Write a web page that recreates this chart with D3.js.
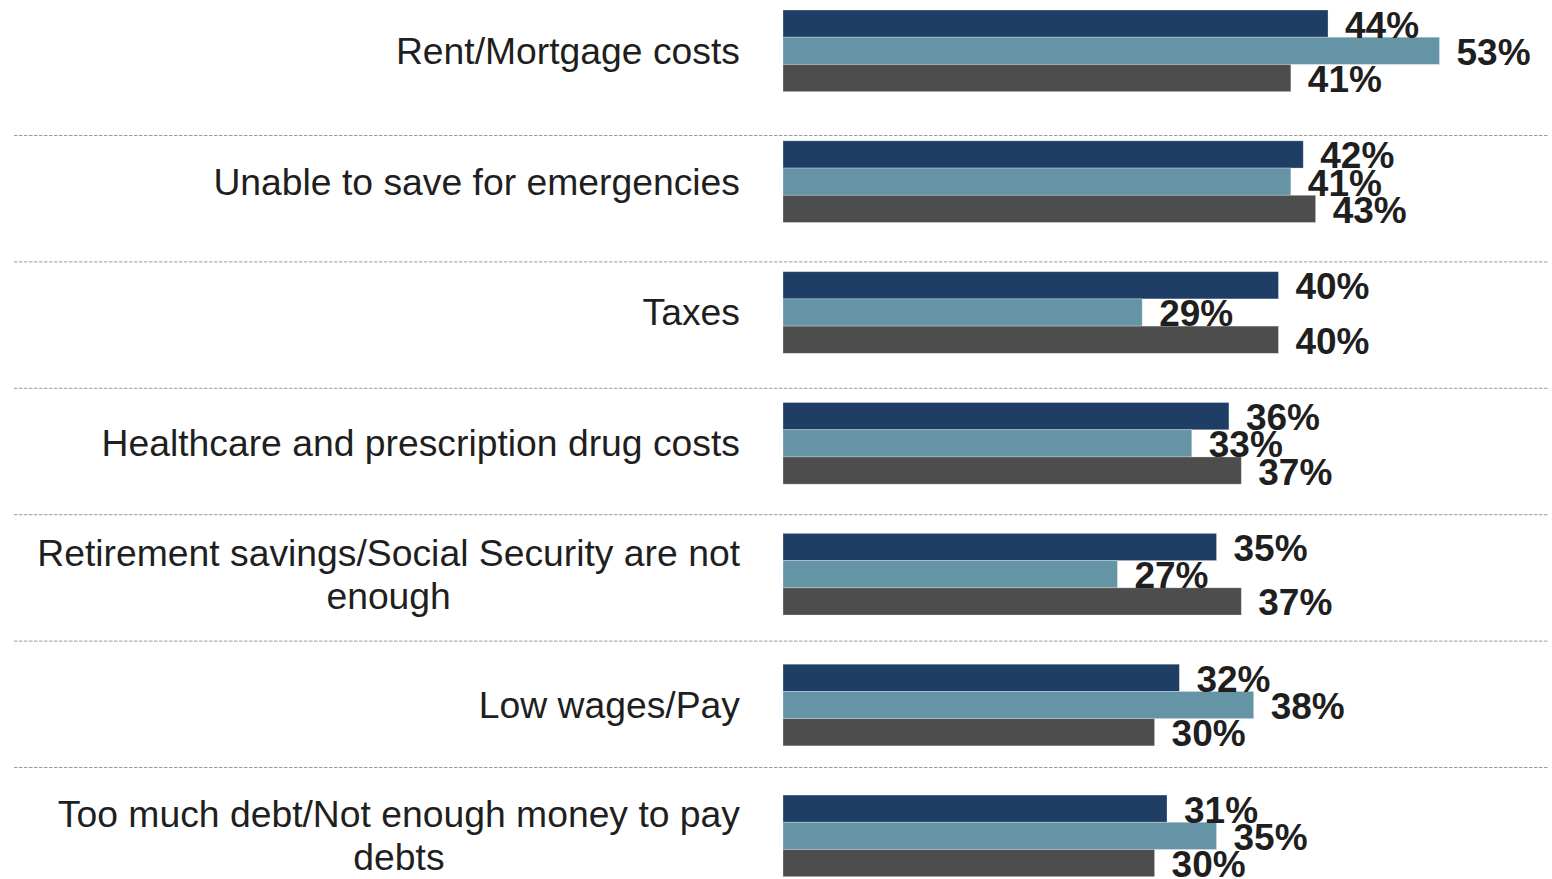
<!DOCTYPE html>
<html>
<head>
<meta charset="utf-8">
<script src="https://cdn.jsdelivr.net/npm/d3@7"></script>
<style>
  html, body { margin: 0; padding: 0; background: #fff; }
  svg { display: block; }
</style>
</head>
<body>
<svg id="chart" width="1552" height="879"></svg>
<script>
const categories = [
  "Rent/Mortgage costs",
  "Unable to save for emergencies",
  "Taxes",
  "Healthcare and prescription drug costs",
  "Retirement savings/Social Security are not enough",
  "Low wages/Pay",
  "Too much debt/Not enough money to pay debts"
];
const seriesNames = ["Series A", "Series B", "Series C"];
const seriesA = [44, 42, 40, 36, 35, 32, 31];
const seriesB = [53, 41, 29, 33, 27, 38, 35];
const seriesC = [41, 43, 40, 37, 37, 30, 30];
const seriesColors = ["#1e3e66", "#6594a6", "#4d4d4d"];
const separatorIndex = [1, 2, 3, 4, 5, 6];

const seriesValues = [seriesA, seriesB, seriesC];
const rows = categories.map((c, i) => ({
  category: c,
  values: seriesNames.map((s, k) => ({ key: s, k, value: seriesValues[k][i] }))
}));

const svg = d3.select("#chart");

const x = d3.scaleLinear().domain([0, 53]).range([783, 1439.5]);
const y = d3.scaleBand().domain(categories).range([10, 876.7]).paddingInner(0.376).paddingOuter(0);
const ySub = d3.scaleBand().domain(seriesNames).range([0, y.bandwidth()]).padding(0);
const color = d3.scaleOrdinal().domain(seriesNames).range(seriesColors);
const sepY = d3.scaleLinear().domain([1, 6]).range([135, 767]);

// separators
svg.append("g").selectAll("line").data(separatorIndex).join("line")
  .attr("x1", 14).attr("x2", 1549)
  .attr("y1", d => sepY(d) + 0.5).attr("y2", d => sepY(d) + 0.5)
  .attr("stroke", "#9c9c9c").attr("stroke-width", 1)
  .attr("stroke-dasharray", "3.5,1.5");

const groups = svg.append("g").selectAll("g").data(rows).join("g")
  .attr("transform", d => `translate(0,${y(d.category)})`);

groups.selectAll("rect").data(d => d.values).join("rect")
  .attr("x", x(0))
  .attr("y", d => ySub(d.key))
  .attr("width", d => x(d.value) - x(0))
  .attr("height", ySub.bandwidth())
  .attr("fill", d => color(d.key))
  .attr("stroke", "rgba(255,255,255,0.35)")
  .attr("stroke-width", 0.8);

groups.selectAll("text.val").data(d => d.values).join("text")
  .attr("class", "val")
  .attr("x", d => x(d.value) + 17)
  .attr("y", d => ySub(d.key) + ySub.bandwidth() / 2 + 14)
  .attr("font-family", "Liberation Sans, Arial, sans-serif")
  .attr("font-weight", "bold")
  .attr("font-size", 37)
  .attr("fill", "#1f1f1f")
  .text(d => d.value + "%");

// category labels with wrapping (block right-aligned, lines centered)
const maxW = 712;
const lineH = 43;
const rightX = 740;
groups.each(function(d) {
  const g = d3.select(this);
  const t = g.append("text")
    .attr("font-family", "Liberation Sans, Arial, sans-serif")
    .attr("font-size", 37.3)
    .attr("fill", "#1f1f1f");
  const words = d.category.split(" ");
  const lines = [];
  let cur = [];
  const probe = t.append("tspan");
  words.forEach(w => {
    const test = cur.concat([w]).join(" ");
    probe.text(test);
    if (probe.node().getComputedTextLength() > maxW && cur.length) {
      lines.push(cur.join(" "));
      cur = [w];
    } else {
      cur.push(w);
    }
  });
  lines.push(cur.join(" "));
  let blockW = 0;
  lines.forEach(ln => { probe.text(ln); blockW = Math.max(blockW, probe.node().getComputedTextLength()); });
  probe.remove();
  const cx = rightX - blockW / 2;
  t.attr("text-anchor", "middle");
  const center = y.bandwidth() / 2;
  const first = center + 13 - (lines.length - 1) * lineH / 2;
  lines.forEach((ln, i) => {
    t.append("tspan").attr("x", cx).attr("y", first + i * lineH).text(ln);
  });
});
</script>
</body>
</html>
